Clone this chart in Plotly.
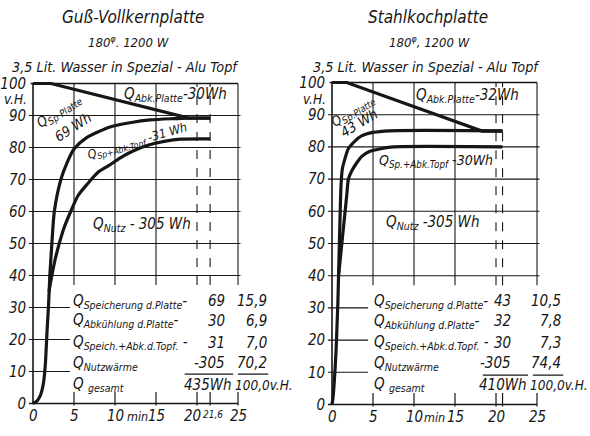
import plotly.graph_objects as go

# ---------------- data ----------------
# Left panel: Guß-Vollkernplatte
L_base_x = [0, 0.5, 0.9, 1.25, 1.5, 1.7, 1.9, 2.05]
L_base_y = [0, 0.8, 2.5, 6, 12, 22, 31, 40]
L_sp_x = [2.05, 2.3, 2.6, 3.4, 4.2, 5.0, 6.5, 9.4, 12, 14.3, 17, 19, 21.6]
L_sp_y = [40, 50, 60, 70, 75.5, 79.5, 83, 86.4, 87.8, 88.6, 89, 89.2, 89.2]
L_topf_x = [1.95, 2.3, 2.7, 3.2, 3.8, 4.6, 5.5, 6.7, 8, 9.4, 10.6, 12.2, 14, 16, 18, 21.6]
L_topf_y = [35, 40, 45, 50, 55, 60, 65, 68.8, 72.4, 74.6, 76.7, 78.9, 80.7, 81.9, 82.6, 82.7]
L_abk_x = [0, 2.2, 19, 21.6]
L_abk_y = [100, 100, 89.2, 89.2]
L_end = 21.6

# Right panel: Stahlkochplatte
R_base_x = [0, 0.12, 0.22, 0.35, 0.5, 0.62, 0.72, 0.8]
R_base_y = [0, 2, 5, 10, 17, 25, 32, 40]
R_sp_x = [0.8, 0.9, 1.0, 1.1, 1.25, 1.6, 2.0, 2.8, 3.6, 5.0, 7.0, 20.8]
R_sp_y = [40, 50, 60, 68, 73, 76.5, 79.5, 81.8, 83.4, 84.5, 85, 85]
R_topf_x = [0.8, 1.0, 1.2, 1.4, 1.6, 1.8, 2.0, 2.4, 3.0, 3.6, 4.5, 6.1, 7.5, 20.8]
R_topf_y = [40, 45, 50, 55, 60, 65, 70, 72.5, 75, 77, 78.5, 79.5, 80, 80]
R_abk_x = [0, 1.8, 18.3, 20.8]
R_abk_y = [100, 100, 84.9, 84.9]
R_end = 20.8

y_ticks = [0, 10, 20, 30, 40, 50, 60, 70, 80, 90, 100]
L_x_ticks = [0, 5, 10, 15, 20, 21.6, 25]
L_x_text = ["0", "5", "10", "15", "20", "21,6", "25"]
R_x_ticks = [0, 5, 10, 15, 20, 20.8, 25]
R_x_text = ["0", "5", "10", "15", "20", "", "25"]

L_titles = ["Guß-Vollkernplatte", "180<sup>φ</sup>. 1200 W", "3,5 Lit. Wasser in Spezial - Alu Topf"]
R_titles = ["Stahlkochplatte", "180<sup>φ</sup>, 1200 W", "3,5 Lit. Wasser in Spezial - Alu Topf"]

tab_labels = ["Q<sub>Speicherung d.Platte</sub>-", "Q<sub>Abkühlung d.Platte</sub>-",
              "Q<sub>Speich.+Abk.d.Topf.</sub> -", "Q<sub>Nutzwärme</sub>", "Q <sub>gesamt</sub>"]
L_vals = ["69", "30", "31", "-305"]
L_pct = ["15,9", "6,9", "7,0", "70,2"]
L_total = ["435Wh", "100,0v.H."]
R_vals = ["43", "32", "30", "-305"]
R_pct = ["10,5", "7,8", "7,3", "74,4"]
R_total = ["410Wh", "100,0v.H."]

L_notes = {"abk": "Q<sub>Abk.Platte</sub>-30Wh", "sp1": "Q<sub>Sp Platte</sub>", "sp2": "69 Wh",
           "topf": "Q<sub>Sp+Abk.Topf</sub> -31 Wh", "nutz": "Q<sub>Nutz</sub> - 305 Wh"}
R_notes = {"abk": "Q<sub>Abk.Platte</sub>-32Wh", "sp1": "Q<sub>Sp.Platte</sub>", "sp2": "43 Wh",
           "topf": "Q<sub>Sp.+Abk.Topf</sub> -30Wh", "nutz": "Q<sub>Nutz</sub> -305 Wh"}

# ---------------- styling / layout ----------------
W, H = 590, 436
INK = "#161616"
FONT = "DejaVu Sans Condensed, Liberation Sans Narrow, sans-serif"

# pixel geometry for the two panels
geo = {
    "L": dict(x0=33, sx=8.2, y0=409, sy=3.26, xr=[-0.6, 30.0], yr=[-1, 102]),
    "R": dict(x0=332, sx=8.2, y0=410, sy=3.28, xr=[-0.6, 30.5], yr=[-1, 102]),
}

fig = go.Figure()


def dom(g):
    xd = [(g["x0"] + g["xr"][0] * g["sx"]) / W, (g["x0"] + g["xr"][1] * g["sx"]) / W]
    yd = [1 - (g["y0"] - g["yr"][0] * g["sy"]) / H, 1 - (g["y0"] - g["yr"][1] * g["sy"]) / H]
    return [max(0, xd[0]), min(1, xd[1])], [max(0, yd[0]), min(1, yd[1])]


def line(xs, ys, xa, ya, w=3.2, smooth=True):
    fig.add_trace(go.Scatter(x=xs, y=ys, mode="lines", xaxis=xa, yaxis=ya,
                             line=dict(color=INK, width=w, shape="spline" if smooth else "linear",
                                       smoothing=0.7),
                             showlegend=False, hoverinfo="skip"))


shapes = []
annotations = []


def seg(xr, yr, x0, y0, x1, y1, w=1.1, dash="solid"):
    shapes.append(dict(type="line", xref=xr, yref=yr, x0=x0, y0=y0, x1=x1, y1=y1,
                       line=dict(color=INK, width=w, dash=dash), layer="below"))


def note(xr, yr, x, y, text, size=14, angle=0, xanchor="center", yanchor="middle",
         yshift=0, xshift=0):
    annotations.append(dict(xref=xr, yref=yr, x=x, y=y, text=text, showarrow=False,
                            textangle=angle, xanchor=xanchor, yanchor=yanchor, borderpad=0,
                            yshift=yshift, xshift=xshift,
                            font=dict(family=FONT, size=size, color=INK, style="italic")))


def panel(key, xa, ya, base, sp, topf, abk, end, xticks, xtext, titles, notes,
          vals, pct, total, cfg):
    g = geo[key]
    xd, yd = dom(g)
    axn = "" if xa == "x" else xa[1:]
    common_font = dict(family=FONT, size=15, color=INK, style="italic")
    fig.layout["xaxis" + axn] = dict(domain=xd, range=g["xr"], anchor=ya, showgrid=False,
                                     zeroline=False, showline=False, ticks="",
                                     showticklabels=False)
    fig.layout["yaxis" + axn] = dict(domain=yd, range=g["yr"], anchor=xa, showgrid=False,
                                     zeroline=False, showline=False, ticks="",
                                     tickvals=y_ticks, ticktext=[str(v) for v in y_ticks],
                                     tickfont=common_font, ticklabelstandoff=1)
    # grid
    for v in [40, 50, 60, 70, 80, 90]:
        seg(xa, ya, -0.5, v, 25.3, v, 1.1)
    for v in [10, 20, 30]:
        seg(xa, ya, -0.5, v, cfg["short"], v, 1.1)
    seg(xa, ya, -0.5, 0, 25, 0, 1.6)       # x axis
    seg(xa, ya, -0.3, 100, 25, 100, 1.4)   # top border
    seg(xa, ya, 0, 0, 0, 100, 1.6)         # y axis
    for v in [5, 10, 15, 25]:
        seg(xa, ya, v, 37, v, 100, 1.1)
    for v in [20, end]:
        seg(xa, ya, v, 37, v, 100, 1.1, "dash")
    for v in xticks[1:]:
        seg(xa, ya, v, -0.6, v, 3.6, 1.2)
    # x tick labels
    for v, t in zip(xticks, xtext):
        if t:
            small = "," in t
            shift = cfg["tick_shift"].get(t, 0)
            note(xa, ya, v, -0.9, t, size=10 if small else 15, yanchor="top",
                 yshift=-2 if small else 0, xshift=shift)
    note(xa, ya, cfg["min_x"], -0.9, "min", size=12.5, yanchor="top", yshift=-1.5)
    # curves
    line(base[0], base[1], xa, ya)
    line(sp[0], sp[1], xa, ya)
    line(topf[0], topf[1], xa, ya)
    line(abk[0], abk[1], xa, ya, smooth=False)
    # titles
    for t, (px, py, sz) in zip(titles, cfg["titles"]):
        note("paper", "paper", px / W, 1 - py / H, t, size=sz)
    note(xa, ya, -0.55, 95.0, "v.H.", size=13.5, xanchor="right")
    # curve notes
    for k, (x, y, ang, sz) in cfg["notes"].items():
        note(xa, ya, x, y, notes[k], size=sz, angle=ang)
    # table
    rows = cfg["rows"]
    for i, lab in enumerate(tab_labels):
        note(xa, ya, cfg["lab_x"], rows[i], lab, size=15, xanchor="left")
    for i in range(4):
        note(xa, ya, cfg["val_x"], rows[i], vals[i], size=15, xanchor="right")
        note(xa, ya, cfg["pct_x"], rows[i], pct[i], size=15, xanchor="right")
    note(xa, ya, cfg["tot_x"], rows[4], total[0], size=15, xanchor="right")
    note(xa, ya, cfg["tot_x"] + 0.1, rows[4], total[1], size=13.5, xanchor="left")
    for (a, b) in cfg["ulines"]:
        seg(xa, ya, a, cfg["uy"], b, cfg["uy"], 1.2)


panel("L", "x", "y", (L_base_x, L_base_y), (L_sp_x, L_sp_y), (L_topf_x, L_topf_y),
      (L_abk_x, L_abk_y), L_end, L_x_ticks, L_x_text, L_titles, L_notes, L_vals, L_pct, L_total,
      dict(short=4.5, min_x=12.7, tick_shift={"20": -5, "21,6": 3},
           titles=[(133, 15, 17), (128, 41, 13), (125, 66, 14.3)],
           notes={"abk": (17.4, 96.4, 0, 15), "sp1": (3.2, 91.5, -34, 14),
                  "sp2": (4.9, 86.3, -33, 14), "topf": (12.8, 81.9, -16, 12.5),
                  "nutz": (13.3, 56.0, 0, 15)},
           rows=[31.9, 25.8, 19.0, 12.6, 5.8], lab_x=4.75, val_x=23.5, pct_x=28.6,
           tot_x=24.4, uy=9.2, ulines=[(18.5, 24.4), (25.0, 28.7)]))

panel("R", "x2", "y2", (R_base_x, R_base_y), (R_sp_x, R_sp_y), (R_topf_x, R_topf_y),
      (R_abk_x, R_abk_y), R_end, R_x_ticks, R_x_text, R_titles, R_notes, R_vals, R_pct, R_total,
      dict(short=4.4, min_x=12.5, tick_shift={},
           titles=[(428, 15, 17), (430, 41, 13), (426, 66, 14.3)],
           notes={"abk": (16.5, 95.9, 0, 15), "sp1": (2.5, 91.2, -33, 13.5),
                  "sp2": (3.3, 87.3, -31, 14), "topf": (12.7, 75.6, 0, 14),
                  "nutz": (12.2, 56.4, 0, 15)},
           rows=[32.0, 25.9, 19.2, 12.8, 6.1], lab_x=5.0, val_x=22.0, pct_x=28.0,
           tot_x=23.9, uy=9.1, ulines=[(18.4, 23.9), (24.5, 28.2)]))

fig.update_layout(width=W, height=H, margin=dict(l=0, r=0, t=0, b=0),
                  paper_bgcolor="white", plot_bgcolor="rgba(0,0,0,0)",
                  shapes=shapes, annotations=annotations,
                  font=dict(family=FONT, color=INK))
fig.write_html("out.html", config={"displayModeBar": False},
               post_script="document.body.style.margin='0px';")
